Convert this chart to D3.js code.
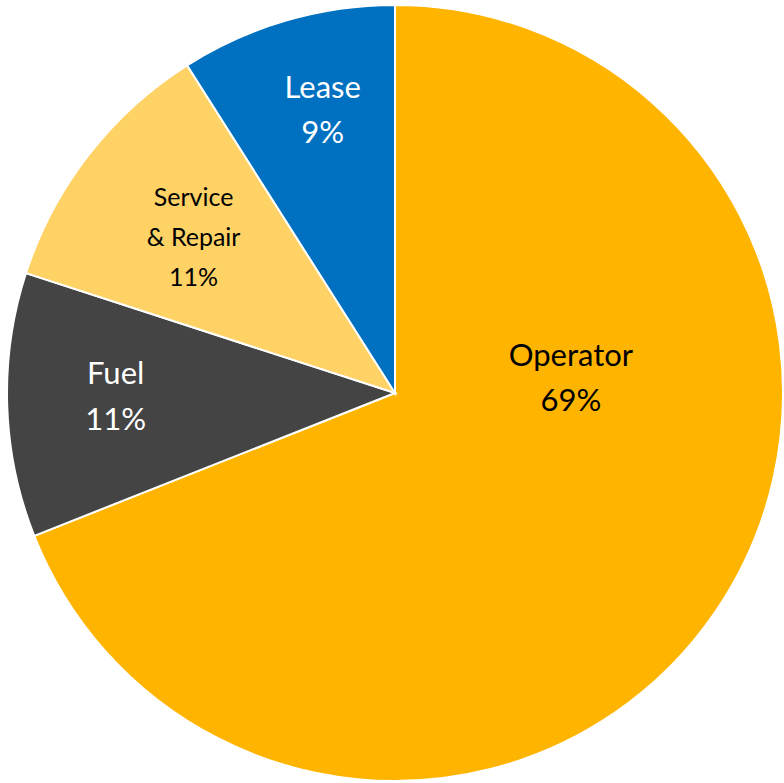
<!DOCTYPE html>
<html>
<head>
<meta charset="utf-8">
<script src="https://cdn.jsdelivr.net/npm/d3@7.9.0/dist/d3.min.js"></script>
<style>
  html, body { margin: 0; padding: 0; background: #fff; }
  svg { display: block; }
</style>
</head>
<body>
<div id="chart"></div>
<script>
// slice data, clockwise from 12 o'clock
const categories = ["Operator", "Fuel", "Service & Repair", "Lease"];
const shares = [69, 11, 11, 9];
const labelLines = [["Operator", "69%"], ["Fuel", "11%"], ["Service", "& Repair", "11%"], ["Lease", "9%"]];

const width = 784, height = 783;
const cx = 395, cy = 393, radius = 388;

const color = d3.scaleOrdinal()
    .domain(categories)
    .range(["#FFB400", "#444444", "#FFD266", "#0070C0"]);

const textColor = {"Operator": "#000", "Fuel": "#fff", "Service & Repair": "#000", "Lease": "#fff"};

// label placement (fraction of radius, optional fixed angle in degrees)
const labelPlace = {
    "Operator": {k: 0.455, deg: 85},
    "Fuel": {k: 0.72, deg: 269.5},
    "Service & Repair": {k: 0.657},
    "Lease": {k: 0.755, deg: 345.7}
};
const fontSize = {"Operator": 31, "Fuel": 31, "Service & Repair": 25, "Lease": 31};
const lineGap = {"Operator": 45, "Fuel": 46, "Service & Repair": 40, "Lease": 45};

const data = categories.map((c, i) => ({name: c, value: shares[i], lines: labelLines[i]}));

const svg = d3.select("#chart")
    .append("svg")
    .attr("width", width)
    .attr("height", height);

const g = svg.append("g")
    .attr("transform", "translate(" + cx + "," + cy + ")");

const pie = d3.pie()
    .sort(null)
    .value(d => d.value);

const arc = d3.arc()
    .innerRadius(0)
    .outerRadius(radius);

const arcs = pie(data);

g.selectAll("path")
    .data(arcs)
    .enter()
    .append("path")
    .attr("d", arc)
    .attr("fill", d => color(d.data.name))
    .attr("stroke", "#fff")
    .attr("stroke-width", 2);

// labels
const labels = g.selectAll("g.label")
    .data(arcs)
    .enter()
    .append("g")
    .attr("class", "label")
    .attr("transform", d => {
        const p = labelPlace[d.data.name];
        const a = p.deg !== undefined ? p.deg * Math.PI / 180 : (d.startAngle + d.endAngle) / 2;
        const r = p.k * radius;
        return "translate(" + (r * Math.sin(a)) + "," + (-r * Math.cos(a)) + ")";
    });

labels.each(function(d) {
    const name = d.data.name;
    const n = d.data.lines.length;
    const gap = lineGap[name];
    const fs = fontSize[name];
    d3.select(this).selectAll("text")
        .data(d.data.lines)
        .enter()
        .append("text")
        .attr("x", 0)
        .attr("y", (t, i) => (i - (n - 1) / 2) * gap + fs * 0.36)
        .attr("text-anchor", "middle")
        .attr("font-family", "Lato, 'Open Sans', sans-serif")
        .attr("font-size", fs)
        .attr("fill", textColor[name])
        .text(t => t);
});
</script>
</body>
</html>
